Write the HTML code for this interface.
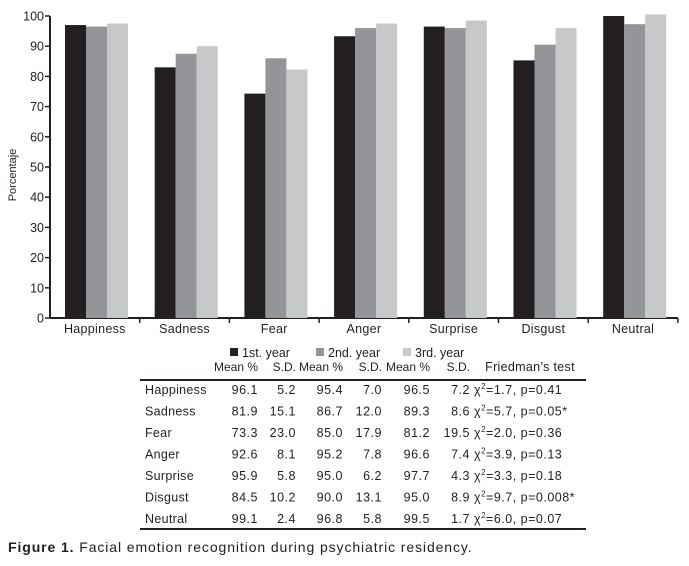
<!DOCTYPE html>
<html><head><meta charset="utf-8"><style>
body{margin:0;background:#fff;width:689px;height:561px;overflow:hidden;font-family:"Liberation Sans",sans-serif;color:#231f20}
svg text{font-family:"Liberation Sans",sans-serif;fill:#231f20}
</style></head><body>
<svg id="c" width="689" height="561"></svg>
<script>
const categories=["Happiness","Sadness","Fear","Anger","Surprise","Disgust","Neutral"];
const year1=[97,83,74.3,93.3,96.5,85.3,100];
const year2=[96.5,87.5,86,96,96,90.5,97.3];
const year3=[97.5,90,82.3,97.5,98.5,96,100.5];
const yTicks=[0,10,20,30,40,50,60,70,80,90,100];
const tMean1=["96.1","81.9","73.3","92.6","95.9","84.5","99.1"];
const tSd1=["5.2","15.1","23.0","8.1","5.8","10.2","2.4"];
const tMean2=["95.4","86.7","85.0","95.2","95.0","90.0","96.8"];
const tSd2=["7.0","12.0","17.9","7.8","6.2","13.1","5.8"];
const tMean3=["96.5","89.3","81.2","96.6","97.7","95.0","99.5"];
const tSd3=["7.2","8.6","19.5","7.4","4.3","8.9","1.7"];
const tChi=["1.7","5.7","2.0","3.9","3.3","9.7","6.0"];
const tP=["0.41","0.05*","0.36","0.13","0.18","0.008*","0.07"];

const svg=document.getElementById('c');const NS="http://www.w3.org/2000/svg";
function el(t,a,txt){const e=document.createElementNS(NS,t);for(const k in a)e.setAttribute(k,a[k]);if(txt!=null)e.textContent=txt;svg.appendChild(e);return e;}
const x0=50,cw=89.7,bw=21,y0=318,yScale=v=>y0-v*3.02;
const xCat=i=>x0+cw*i;
let a=el('line',{x1:x0,y1:yScale(100),x2:x0,y2:y0,stroke:'#231f20','stroke-width':2});

a=el('line',{x1:x0,y1:y0,x2:x0+cw*7,y2:y0,stroke:'#231f20','stroke-width':2});

yTicks.forEach(v=>{
 const l=el('line',{x1:x0-5,x2:x0,y1:yScale(v),y2:yScale(v),stroke:'#231f20','stroke-width':1.5});
 
 const t=el('text',{x:x0-6,y:yScale(v)+4.5,'text-anchor':'end','font-size':12.5},v);
 
});
const yt=el('text',{x:16,y:175,'text-anchor':'middle','font-size':11,transform:'rotate(-90 16 175)'},'Porcentaje');

const cols=['#231f20','#939598','#c7c8ca'];
categories.forEach((c,i)=>{
 [year1,year2,year3].forEach((s,j)=>{
  const r=el('rect',{x:xCat(i)+15+j*bw,y:yScale(s[i]),width:bw,height:y0-yScale(s[i]),fill:cols[j]});
  
 });
 const tk=el('line',{x1:xCat(i+1),x2:xCat(i+1),y1:y0,y2:y0+5,stroke:'#231f20','stroke-width':1.5});
 
 const t=el('text',{x:xCat(i)+cw/2,y:333,'text-anchor':'middle','font-size':12.5,'letter-spacing':0.3},c);
 
});
const legX=[230,316,403];const legT=['1st. year','2nd. year','3rd. year'];
legX.forEach((x,j)=>{
 const r=el('rect',{x:x,y:348,width:8,height:8,fill:cols[j]});
 
 const t=el('text',{x:x+12,y:357,'font-size':12.5},legT[j]);
 
});
const meanR=[258,343,430],sdR=[296,382,470];
for(let j=0;j<3;j++){
 let t=el('text',{x:meanR[j],y:371,'text-anchor':'end','font-size':12},'Mean %');
 
 t=el('text',{x:sdR[j],y:371,'text-anchor':'end','font-size':12},'S.D.');
 
}
let h=el('text',{x:530,y:371,'text-anchor':'middle','font-size':12.5,'letter-spacing':0.3},'Friedman\u2019s test');

h=el('line',{x1:140,x2:586,y1:380,y2:380,stroke:'#231f20','stroke-width':2});

h=el('line',{x1:140,x2:586,y1:529,y2:529,stroke:'#231f20','stroke-width':2});

categories.forEach((c,i)=>{
 const y=394+i*21.5;
 let t=el('text',{x:145,y:y,'font-size':12.5,'letter-spacing':0.3},c);
 
 [[tMean1,meanR[0]],[tSd1,sdR[0]],[tMean2,meanR[1]],[tSd2,sdR[1]],[tMean3,meanR[2]],[tSd3,sdR[2]]].forEach(([arr,x])=>{
  t=el('text',{x:x,y:y,'text-anchor':'end','font-size':12.5,'letter-spacing':0.5},arr[i]);
  
 });
 t=el('text',{x:474,y:y,'font-size':12.5,'letter-spacing':0.5});
 
 t.innerHTML='\u03C7<tspan font-size="8" dy="-5">2</tspan><tspan dy="5">=</tspan>'+tChi[i]+', p='+tP[i];
});
let cap=el('text',{x:8,y:552,'font-size':14,'letter-spacing':0.9});

cap.innerHTML='<tspan font-weight="bold">Figure 1.</tspan> Facial emotion recognition during psychiatric residency.';
</script>
</body></html>
